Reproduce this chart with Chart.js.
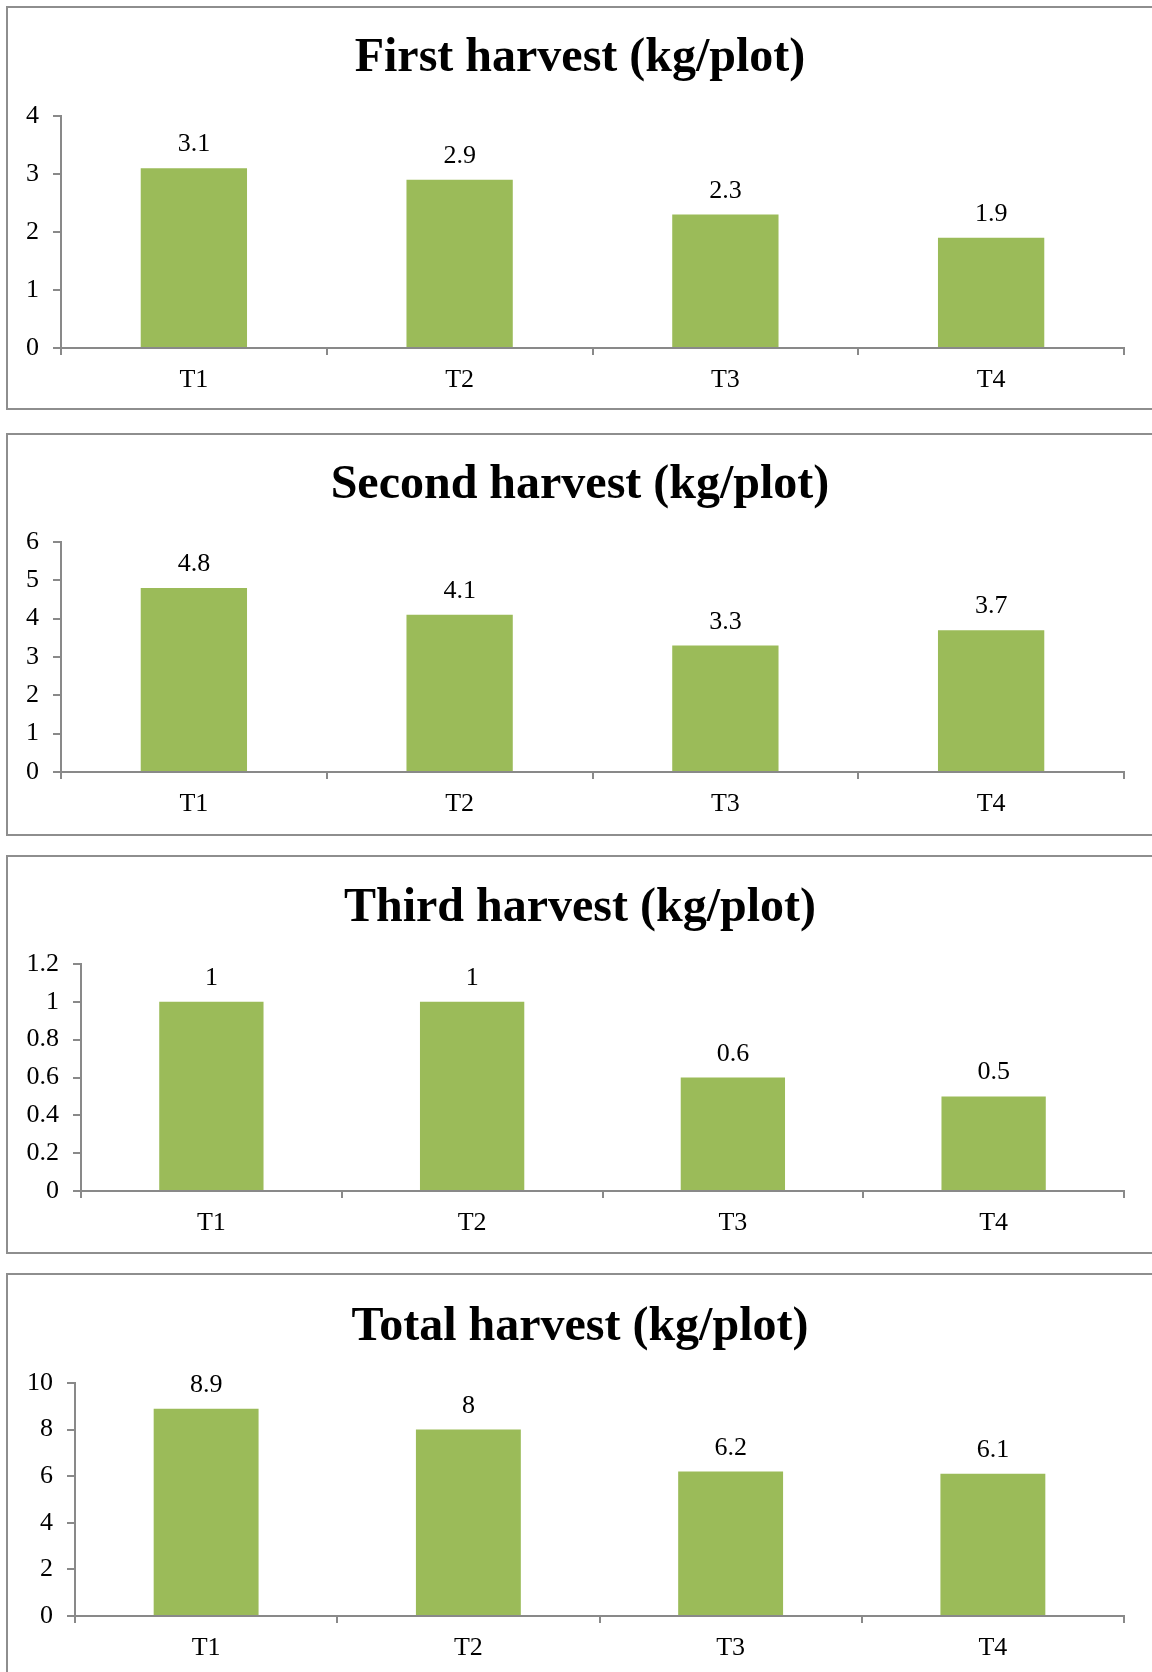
<!DOCTYPE html>
<html>
<head>
<meta charset="utf-8">
<script src="https://cdn.jsdelivr.net/npm/chart.js@4/dist/chart.umd.min.js"></script>
<style>
  html, body { margin: 0; padding: 0; background: #fff; overflow: hidden; }
  body { width: 1152px; height: 1672px; position: relative; }
  .panel { position: absolute; left: 6px; width: 1160px; border: 2px solid #8e8e8e; background: #fff; }
  .panel canvas { position: absolute; left: 0; top: 0; }
</style>
</head>
<body>
<div class="panel" id="p0"><canvas id="c0"></canvas></div>
<div class="panel" id="p1"><canvas id="c1"></canvas></div>
<div class="panel" id="p2"><canvas id="c2"></canvas></div>
<div class="panel" id="p3"><canvas id="c3"></canvas></div>
<script>
const categories = ['T1', 'T2', 'T3', 'T4'];
const firstHarvest = [3.1, 2.9, 2.3, 1.9];
const secondHarvest = [4.8, 4.1, 3.3, 3.7];
const thirdHarvest = [1, 1, 0.6, 0.5];
const totalHarvest = [8.9, 8, 6.2, 6.1];
const chartTitles = ['First harvest (kg/plot)', 'Second harvest (kg/plot)', 'Third harvest (kg/plot)', 'Total harvest (kg/plot)'];
const yMax = [4, 6, 1.2, 10];
const yStep = [1, 1, 0.2, 2];

const seriesList = [firstHarvest, secondHarvest, thirdHarvest, totalHarvest];

// panel geometry: div top, content height, y-axis width, title middle, plot top, plot bottom
const panels = [
  { top: 6, h: 400, axisW: 53, titleMid: 51, plotTop: 108, plotBottom: 340 },
  { top: 433, h: 399, axisW: 53, titleMid: 51, plotTop: 107, plotBottom: 337 },
  { top: 855, h: 395, axisW: 73, titleMid: 51.6, plotTop: 107, plotBottom: 334 },
  { top: 1273, h: 420, axisW: 67, titleMid: 53, plotTop: 108, plotBottom: 341 }
];

const serif = "'Times New Roman', 'Liberation Serif', serif";
const barGreen = '#9bbb59';
const axisGray = '#898989';
const titleSize = 48;
const labelSize = 26;
const titleCenterX = 572;

// panel title, centred on the whole panel rather than the plot
const panelTitle = {
  id: 'panelTitle',
  afterDraw(chart, args, opts) {
    const ctx = chart.ctx;
    ctx.save();
    ctx.font = 'bold ' + titleSize + 'px ' + serif;
    ctx.fillStyle = '#000';
    ctx.textAlign = 'center';
    ctx.textBaseline = 'middle';
    ctx.fillText(opts.text, titleCenterX, opts.y);
    ctx.restore();
  }
};

const valueLabels = {
  id: 'valueLabels',
  afterDatasetsDraw(chart) {
    const ctx = chart.ctx;
    const meta = chart.getDatasetMeta(0);
    const data = chart.data.datasets[0].data;
    ctx.save();
    ctx.font = labelSize + 'px ' + serif;
    ctx.fillStyle = '#000';
    ctx.textAlign = 'center';
    ctx.textBaseline = 'alphabetic';
    meta.data.forEach((bar, i) => {
      ctx.fillText(String(data[i]), bar.x, bar.y - 17);
    });
    ctx.restore();
  }
};

seriesList.forEach((values, i) => {
  const p = panels[i];
  const div = document.getElementById('p' + i);
  div.style.top = p.top + 'px';
  div.style.height = p.h + 'px';
  const canvas = document.getElementById('c' + i);
  canvas.width = 1144;
  canvas.height = p.h;

  new Chart(canvas.getContext('2d'), {
    type: 'bar',
    data: {
      labels: categories,
      datasets: [{
        data: values,
        backgroundColor: barGreen,
        borderWidth: 0,
        barPercentage: 0.4,
        categoryPercentage: 1
      }]
    },
    options: {
      responsive: false,
      animation: false,
      layout: { padding: { left: 0, right: 28, top: p.plotTop, bottom: 0 } },
      plugins: {
        legend: { display: false },
        tooltip: { enabled: false },
        title: { display: false },
        panelTitle: { text: chartTitles[i], y: p.titleMid }
      },
      scales: {
        x: {
          grid: { display: true, offset: true, drawOnChartArea: false, drawTicks: true, tickLength: 7, color: axisGray, lineWidth: 2 },
          border: { display: true, color: axisGray, width: 2 },
          ticks: { color: '#000', padding: 10, font: { family: serif, size: labelSize } },
          afterFit: scale => { scale.height = p.h - p.plotBottom; }
        },
        y: {
          min: 0,
          max: yMax[i],
          grid: { display: true, drawOnChartArea: false, drawTicks: true, tickLength: 8, color: axisGray, lineWidth: 2 },
          border: { display: true, color: axisGray, width: 2 },
          ticks: {
            stepSize: yStep[i],
            color: '#000',
            padding: 14,
            font: { family: serif, size: labelSize },
            callback: v => String(Math.round(v * 10) / 10)
          },
          afterFit: scale => { scale.width = p.axisW; }
        }
      }
    },
    plugins: [valueLabels, panelTitle]
  });
});
</script>
</body>
</html>
